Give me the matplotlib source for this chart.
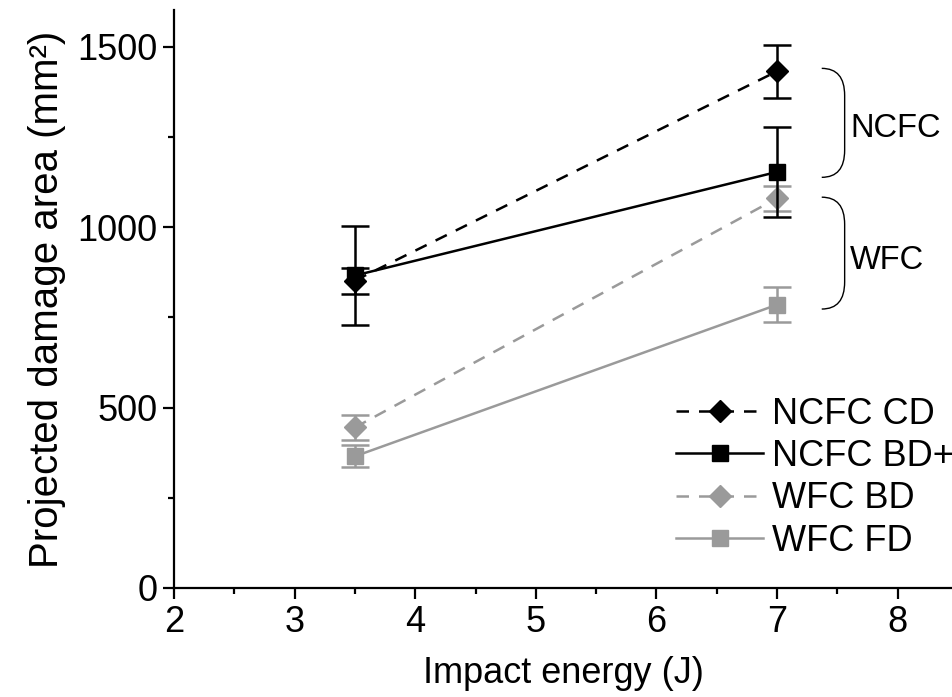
import matplotlib
matplotlib.use("Agg")
import matplotlib.pyplot as plt
from matplotlib.path import Path
from matplotlib.patches import PathPatch
from matplotlib.lines import Line2D
from matplotlib.ticker import MultipleLocator

plt.rcParams['font.family'] = ['Liberation Sans', 'DejaVu Sans']

energy = [3.5, 7.0]
ncfc_cd = [852, 1432]
ncfc_cd_err = [36, 74]
ncfc_bd = [866, 1153]
ncfc_bd_err = [137, 125]
wfc_bd = [445, 1080]
wfc_bd_err = [35, 35]
wfc_fd = [365, 785]
wfc_fd_err = [30, 48]

labels = ["NCFC CD", "NCFC BD+", "WFC BD", "WFC FD"]
group_labels = ["NCFC", "WFC"]
ncfc_brace = [1138, 1440]
wfc_brace = [773, 1083]

black = "black"
gray = "#9a9a9a"

fig = plt.figure(figsize=(9.52, 6.97), dpi=100)
ax = fig.add_axes([0.1828, 0.1564, 0.8172, 0.8294])

sq = dict(capsize=10, capthick=1.8, elinewidth=1.8, linewidth=1.8, markersize=12)
dm = dict(capsize=10, capthick=1.8, elinewidth=1.8, linewidth=1.8, markersize=11.5, dashes=(5, 4))
ax.errorbar(energy, wfc_fd, yerr=wfc_fd_err, color=gray, marker='s', linestyle='-', zorder=2, **sq)
ax.errorbar(energy, wfc_bd, yerr=wfc_bd_err, color=gray, marker='D', linestyle='--', zorder=2, **dm)
ax.errorbar(energy, ncfc_bd, yerr=ncfc_bd_err, color=black, marker='s', linestyle='-', zorder=3, **sq)
ax.errorbar(energy, ncfc_cd, yerr=ncfc_cd_err, color=black, marker='D', linestyle='--', zorder=3, **dm)

handles = [
    Line2D([], [], color=black, marker='D', linestyle='--', linewidth=1.8, markersize=11.5, dashes=(5, 4)),
    Line2D([], [], color=black, marker='s', linestyle='-', linewidth=1.8, markersize=12),
    Line2D([], [], color=gray, marker='D', linestyle='--', linewidth=1.8, markersize=11.5, dashes=(5, 4)),
    Line2D([], [], color=gray, marker='s', linestyle='-', linewidth=1.8, markersize=12),
]

ax.set_xlim(2, 8.45)
ax.set_ylim(0, 1602)
ax.xaxis.set_major_locator(MultipleLocator(1))
ax.xaxis.set_minor_locator(MultipleLocator(0.5))
ax.yaxis.set_major_locator(MultipleLocator(500))
ax.yaxis.set_minor_locator(MultipleLocator(250))
for s in ['top', 'right']:
    ax.spines[s].set_visible(False)
for s in ['left', 'bottom']:
    ax.spines[s].set_linewidth(1.6)
ax.tick_params(which='major', direction='out', length=8, width=1.6, labelsize=26, pad=4)
ax.tick_params(which='minor', direction='out', length=4.5, width=1.6)

ax.set_xlabel("Impact energy (J)", fontsize=26, labelpad=12)
ax.set_ylabel("Projected damage area (mm²)", fontsize=29, labelpad=8)

def brace(ax, y0, y1, x0=7.37, x1=7.56):
    dy = 75
    verts = [(x0, y1), (x1, y1), (x1, y1 - dy),
             (x1, y0 + dy), (x1, y0), (x0, y0)]
    codes = [Path.MOVETO, Path.CURVE3, Path.CURVE3,
             Path.LINETO, Path.CURVE3, Path.CURVE3]
    p = PathPatch(Path(verts, codes), facecolor='none', edgecolor='black', linewidth=1.0, clip_on=False)
    ax.add_patch(p)

brace(ax, ncfc_brace[0], ncfc_brace[1])
brace(ax, wfc_brace[0], wfc_brace[1])
ax.text(7.98, 1272, group_labels[0], fontsize=23.5, ha='center', va='center')
ax.text(7.91, 908, group_labels[1], fontsize=23.5, ha='center', va='center')

leg = ax.legend(handles, labels, loc='lower right', bbox_to_anchor=(1.021, 0.026),
                frameon=False, fontsize=26, handlelength=2.4, handletextpad=0.25,
                labelspacing=0.2, borderaxespad=0.0)

fig.savefig("out.png", dpi=100)
